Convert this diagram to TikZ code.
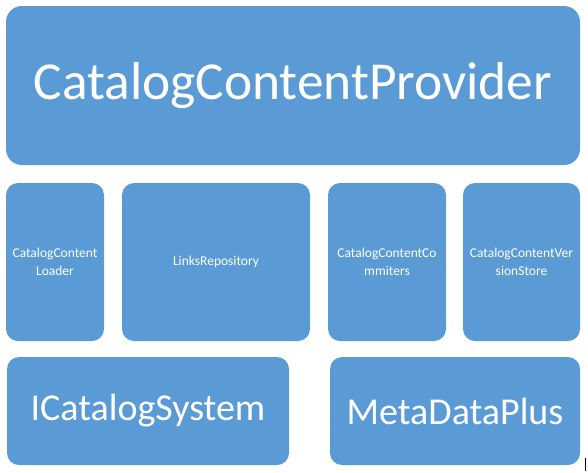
\documentclass[tikz,border=0pt]{standalone}
\usepackage{fontspec}
\setmainfont{Carlito}
\definecolor{boxblue}{HTML}{5B9BD5}

\begin{document}
\begin{tikzpicture}[x=1pt,y=-1pt,every node/.style={inner sep=0pt},
	block/.style={fill=boxblue,text=white,rounded corners=#1,align=center},
	block/.default=12pt]
	\useasboundingbox (0,0) rectangle (588,472);
	% top layer
	\node[block=16pt,minimum width=574pt,minimum height=159pt,font=\fontsize{53.4}{64}\selectfont] (provider) at (293,85.5) {CatalogContentProvider};
	% middle layer
	\foreach \n/\x/\w/\txt in {loader/55/98/{CatalogContent\\Loader}, links/216/188/{LinksRepository}, commiters/387/118/{CatalogContentCo\\mmiters}, store/521.5/117/{CatalogContentVer\\sionStore}}
		\node[block,minimum width=\w pt,minimum height=158pt,font=\fontsize{13.5}{17.6}\selectfont] (\n) at (\x,262) {\txt};
	% bottom layer
	\foreach \n/\x/\w/\txt in {system/148/282/ICatalogSystem, metadata/455/250/MetaDataPlus}
		\node[block,minimum width=\w pt,minimum height=108pt,font=\fontsize{38}{46}\selectfont] (\n) at (\x,411) {\txt};
	\draw[line width=1.5pt] (585.5,458) -- (585.5,471);
\end{tikzpicture}
\end{document}
